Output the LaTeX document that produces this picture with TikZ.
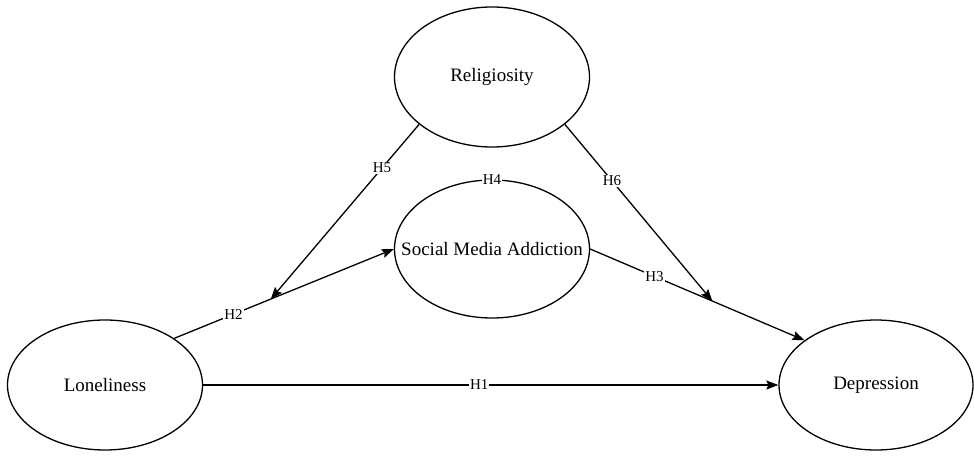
\documentclass[tikz,border=0pt]{standalone}
\usepackage{fontspec}
\setmainfont{Liberation Serif}
\usetikzlibrary{shapes.geometric,arrows.meta,calc}
\begin{document}
\begin{tikzpicture}[x=1pt,y=-1pt,
  var/.style={draw,ellipse,line width=1.3pt,inner sep=0pt,label={[font=\fontsize{19}{21}\selectfont]center:#1}},
  link/.style={line width=1.3pt,-{Stealth[length=12pt,width=9pt,inset=2pt]}},
  hlab/.style={fill=white,inner sep=1pt,font=\fontsize{15}{17}\selectfont}]
\useasboundingbox (0,0) rectangle (974,460);
\node[var=Religiosity,minimum width=195pt,minimum height=140pt] (Rel) at (492,77) {};
\node[var=Social Media Addiction,minimum width=195pt,minimum height=138pt] (SMA) at (492,249) {};
\node[var=Loneliness,minimum width=195pt,minimum height=130pt] (Lone) at (105,385) {};
\node[var=Depression,minimum width=194pt,minimum height=130pt] (Dep) at (876,385) {};
\coordinate (m2) at ($(Lone.34)!0.44!(SMA.west)$);
\coordinate (m3) at ($(SMA.east)!0.57!(Dep.148)$);
\draw[link] (Lone.east) -- node[hlab,pos=0.48] {H1} (Dep.west);
\draw[link] (Lone.34) -- node[hlab,pos=0.27] {H2} (SMA.west);
\draw[link] (SMA.east) -- node[hlab,pos=0.30] {H3} (Dep.148);
\draw[link] (Rel.213) -- node[hlab,pos=0.25] {H5} (m2);
\draw[link] (Rel.327) -- node[hlab,pos=0.32] {H6} (m3);
\node[hlab] (H4) at (SMA.north) {H4};
\end{tikzpicture}
\end{document}
